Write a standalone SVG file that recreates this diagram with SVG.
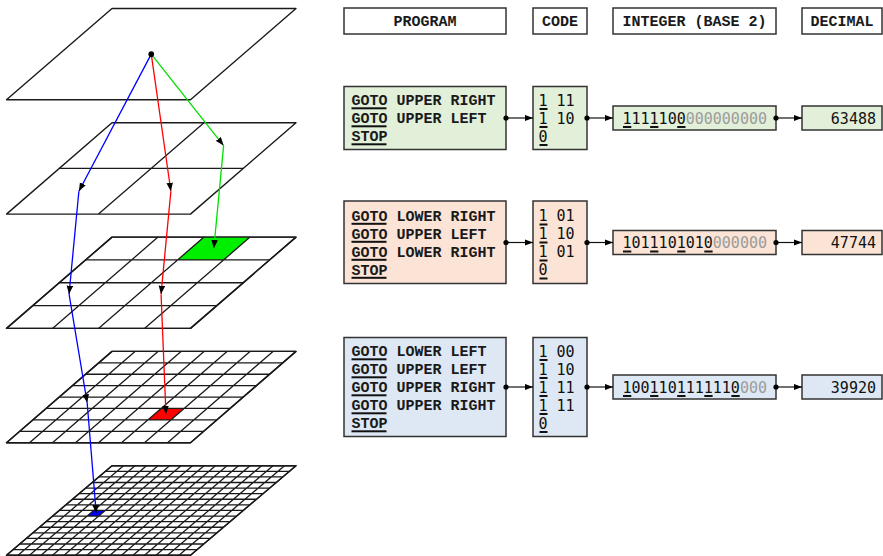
<svg xmlns="http://www.w3.org/2000/svg" width="883" height="556" viewBox="0 0 883 556">
<style>
.plane{fill:#fff;stroke:#1a1a1a;stroke-width:1.4;stroke-linejoin:round}
.grid{fill:none;stroke:#1a1a1a;stroke-width:1.3}
.path{fill:none;stroke-width:1.3}
.conn{fill:none;stroke:#111;stroke-width:1.2}
.box{stroke:#333;stroke-width:1.5}
.hdr{fill:#fff}
.g{fill:#e2efd9}
.o{fill:#fbe4d5}
.b{fill:#dde8f4}
.prog{font-family:"Liberation Mono","Courier New",monospace;font-weight:bold;font-size:15px;fill:#1a1a1a}
.mono{font-family:"DejaVu Sans Mono","Liberation Mono",monospace;font-size:15px;fill:#111}
.gray{fill:#9c9c9c}
.ul{fill:#111}
</style>
<defs>
<marker id="ah" markerUnits="userSpaceOnUse" markerWidth="9" markerHeight="7" refX="8.5" refY="3.25" orient="auto">
<path d="M0,0 L8.5,3.25 L0,6.5 z" fill="#000"/>
</marker>
</defs>

<!-- planes -->
<g id="plane1">
<polygon class="plane" points="112,8.5 296,8.5 190.5,99.8 6.5,99.8"/>
</g>
<g id="plane2">
<polygon class="plane" points="112,122.8 296,122.8 190.5,214.1 6.5,214.1"/>
<path class="grid" d="M59.25,168.45 H243.25 M204,122.8 L98.5,214.1"/>
</g>
<g id="plane3">
<polygon class="plane" points="112,237.1 296,237.1 190.5,328.4 6.5,328.4"/>
<polygon points="204,237.1 250,237.1 223.625,259.925 177.625,259.925" fill="#00ee00"/>
<path class="grid" d="M85.625,259.925 H269.625 M59.25,282.75 H243.25 M32.875,305.575 H216.875 M158,237.1 L52.5,328.4 M204,237.1 L98.5,328.4 M250,237.1 L144.5,328.4"/>
<polygon class="plane" style="fill:none" points="112,237.1 296,237.1 190.5,328.4 6.5,328.4"/>
</g>
<g id="plane4">
<polygon class="plane" points="112,351.4 296,351.4 190.5,442.7 6.5,442.7"/>
<polygon points="161.06,408.46 184.06,408.46 170.875,419.88 147.875,419.88" fill="#ff0000"/>
<path class="grid" d="M98.81,362.81 H282.81 M85.63,374.23 H269.63 M72.44,385.64 H256.44 M59.25,397.05 H243.25 M46.06,408.46 H230.06 M32.88,419.88 H216.88 M19.69,431.29 H203.69 M135,351.4 L29.5,442.7 M158,351.4 L52.5,442.7 M181,351.4 L75.5,442.7 M204,351.4 L98.5,442.7 M227,351.4 L121.5,442.7 M250,351.4 L144.5,442.7 M273,351.4 L167.5,442.7"/>
<polygon class="plane" style="fill:none" points="112,351.4 296,351.4 190.5,442.7 6.5,442.7"/>
</g>
<g id="plane5">
<polygon class="plane" points="112,465.7 296,465.7 190.5,555.2 6.5,555.2"/>
<polygon points="93.75,510.45 105.25,510.45 98.66,516.04 87.16,516.04" fill="#0000ff"/>
<path class="grid" d="M105.41,471.29 H289.41 M98.81,476.89 H282.81 M92.22,482.48 H276.22 M85.63,488.08 H269.63 M79.03,493.67 H263.03 M72.44,499.26 H256.44 M65.84,504.86 H249.84 M59.25,510.45 H243.25 M52.66,516.04 H236.66 M46.06,521.64 H230.06 M39.47,527.23 H223.47 M32.88,532.83 H216.88 M26.28,538.42 H210.28 M19.69,544.01 H203.69 M13.09,549.61 H197.09 M123.5,465.7 L18,555.2 M135,465.7 L29.5,555.2 M146.5,465.7 L41,555.2 M158,465.7 L52.5,555.2 M169.5,465.7 L64,555.2 M181,465.7 L75.5,555.2 M192.5,465.7 L87,555.2 M204,465.7 L98.5,555.2 M215.5,465.7 L110,555.2 M227,465.7 L121.5,555.2 M238.5,465.7 L133,555.2 M250,465.7 L144.5,555.2 M261.5,465.7 L156,555.2 M273,465.7 L167.5,555.2 M284.5,465.7 L179,555.2"/>
<polygon class="plane" style="fill:none" points="112,465.7 296,465.7 190.5,555.2 6.5,555.2"/>
</g>

<!-- paths through the planes -->
<g id="paths">
<path class="path" stroke="#00e000" d="M151.25,54.15 L223.6,145.6" marker-end="url(#ah)"/>
<path class="path" stroke="#00e000" d="M223.6,145.6 L213.81,248.51" marker-end="url(#ah)"/>
<path class="path" stroke="#ff0000" d="M151.25,54.15 L170.875,191.275" marker-end="url(#ah)"/>
<path class="path" stroke="#ff0000" d="M170.875,191.275 L161.06,294.16" marker-end="url(#ah)"/>
<path class="path" stroke="#ff0000" d="M161.06,294.16 L165.97,414.17" marker-end="url(#ah)"/>
<path class="path" stroke="#0000ff" d="M151.25,54.15 L78.875,191.275" marker-end="url(#ah)"/>
<path class="path" stroke="#0000ff" d="M78.875,191.275 L69.06,294.16" marker-end="url(#ah)"/>
<path class="path" stroke="#0000ff" d="M69.06,294.16 L87.16,402.76" marker-end="url(#ah)"/>
<path class="path" stroke="#0000ff" d="M87.16,402.76 L96.2,513.25" marker-end="url(#ah)"/>
<circle cx="151.25" cy="54.15" r="2.8" fill="#000"/>
</g>

<!-- headers -->
<g id="hdr-program"><rect class="box hdr" x="344" y="8" width="162" height="26"/><text class="prog" x="425" y="26" text-anchor="middle">PROGRAM</text></g>
<g id="hdr-code"><rect class="box hdr" x="533" y="8" width="54" height="26"/><text class="prog" x="560" y="26" text-anchor="middle">CODE</text></g>
<g id="hdr-integer"><rect class="box hdr" x="613" y="8" width="163" height="26"/><text class="prog" x="694.5" y="26" text-anchor="middle">INTEGER (BASE 2)</text></g>
<g id="hdr-decimal"><rect class="box hdr" x="802" y="8" width="80" height="26"/><text class="prog" x="842" y="26" text-anchor="middle">DECIMAL</text></g>

<!-- row 1 -->
<g id="prog1">
<rect class="box g" x="344" y="86.5" width="162" height="63"/>
<text class="prog" x="351.5" y="105">GOTO UPPER RIGHT</text>
<text class="prog" x="351.5" y="123">GOTO UPPER LEFT</text>
<text class="prog" x="351.5" y="141">STOP</text>
<rect class="ul" x="351.5" y="107.3" width="35" height="2"/>
<rect class="ul" x="351.5" y="125.3" width="35" height="2"/>
<rect class="ul" x="351.5" y="143.3" width="35" height="2"/>
</g>
<g id="code1">
<rect class="box g" x="533" y="86.5" width="54" height="63"/>
<text class="mono" x="538.5" y="105.5">1 11</text>
<text class="mono" x="538.5" y="123.5">1 10</text>
<text class="mono" x="538.5" y="141.5">0</text>
<rect class="ul" x="539.5" y="108" width="8" height="2"/>
<rect class="ul" x="539.5" y="126" width="8" height="2"/>
<rect class="ul" x="539.5" y="144" width="8" height="2"/>
</g>
<g id="int1">
<rect class="box g" x="613" y="106" width="163" height="24"/>
<text class="mono" x="622.5" y="123.5">1111100<tspan class="gray">000000000</tspan></text>
<rect class="ul" x="623" y="126" width="8.3" height="2"/>
<rect class="ul" x="650.1" y="126" width="8.3" height="2"/>
<rect class="ul" x="677.2" y="126" width="8.3" height="2"/>
</g>
<g id="dec1">
<rect class="box g" x="802" y="106" width="80" height="24"/>
<text class="mono" x="876" y="123.5" text-anchor="end">63488</text>
</g>

<!-- row 2 -->
<g id="prog2">
<rect class="box o" x="344" y="201" width="162" height="82.5"/>
<text class="prog" x="351.5" y="220.5">GOTO LOWER RIGHT</text>
<text class="prog" x="351.5" y="238.5">GOTO UPPER LEFT</text>
<text class="prog" x="351.5" y="256.5">GOTO LOWER RIGHT</text>
<text class="prog" x="351.5" y="274.5">STOP</text>
<rect class="ul" x="351.5" y="222.8" width="35" height="2"/>
<rect class="ul" x="351.5" y="240.8" width="35" height="2"/>
<rect class="ul" x="351.5" y="258.8" width="35" height="2"/>
<rect class="ul" x="351.5" y="276.8" width="35" height="2"/>
</g>
<g id="code2">
<rect class="box o" x="533" y="201" width="54" height="82.5"/>
<text class="mono" x="538.5" y="221">1 01</text>
<text class="mono" x="538.5" y="239">1 10</text>
<text class="mono" x="538.5" y="257">1 01</text>
<text class="mono" x="538.5" y="275">0</text>
<rect class="ul" x="539.5" y="223.5" width="8" height="2"/>
<rect class="ul" x="539.5" y="241.5" width="8" height="2"/>
<rect class="ul" x="539.5" y="259.5" width="8" height="2"/>
<rect class="ul" x="539.5" y="277.5" width="8" height="2"/>
</g>
<g id="int2">
<rect class="box o" x="613" y="230.5" width="163" height="24"/>
<text class="mono" x="622.5" y="248">1011101010<tspan class="gray">000000</tspan></text>
<rect class="ul" x="623" y="250.5" width="8.3" height="2"/>
<rect class="ul" x="650.1" y="250.5" width="8.3" height="2"/>
<rect class="ul" x="677.2" y="250.5" width="8.3" height="2"/>
<rect class="ul" x="704.3" y="250.5" width="8.3" height="2"/>
</g>
<g id="dec2">
<rect class="box o" x="802" y="230.5" width="80" height="24"/>
<text class="mono" x="876" y="248" text-anchor="end">47744</text>
</g>

<!-- row 3 -->
<g id="prog3">
<rect class="box b" x="344" y="337.5" width="162" height="99"/>
<text class="prog" x="351.5" y="356">GOTO LOWER LEFT</text>
<text class="prog" x="351.5" y="374">GOTO UPPER LEFT</text>
<text class="prog" x="351.5" y="392">GOTO UPPER RIGHT</text>
<text class="prog" x="351.5" y="410">GOTO UPPER RIGHT</text>
<text class="prog" x="351.5" y="428">STOP</text>
<rect class="ul" x="351.5" y="358.3" width="35" height="2"/>
<rect class="ul" x="351.5" y="376.3" width="35" height="2"/>
<rect class="ul" x="351.5" y="394.3" width="35" height="2"/>
<rect class="ul" x="351.5" y="412.3" width="35" height="2"/>
<rect class="ul" x="351.5" y="430.3" width="35" height="2"/>
</g>
<g id="code3">
<rect class="box b" x="533" y="337.5" width="54" height="99"/>
<text class="mono" x="538.5" y="356.5">1 00</text>
<text class="mono" x="538.5" y="374.5">1 10</text>
<text class="mono" x="538.5" y="392.5">1 11</text>
<text class="mono" x="538.5" y="410.5">1 11</text>
<text class="mono" x="538.5" y="428.5">0</text>
<rect class="ul" x="539.5" y="359" width="8" height="2"/>
<rect class="ul" x="539.5" y="377" width="8" height="2"/>
<rect class="ul" x="539.5" y="395" width="8" height="2"/>
<rect class="ul" x="539.5" y="413" width="8" height="2"/>
<rect class="ul" x="539.5" y="431" width="8" height="2"/>
</g>
<g id="int3">
<rect class="box b" x="613" y="375" width="163" height="24"/>
<text class="mono" x="622.5" y="392.5">1001101111110<tspan class="gray">000</tspan></text>
<rect class="ul" x="623" y="395" width="8.3" height="2"/>
<rect class="ul" x="650.1" y="395" width="8.3" height="2"/>
<rect class="ul" x="677.2" y="395" width="8.3" height="2"/>
<rect class="ul" x="704.3" y="395" width="8.3" height="2"/>
<rect class="ul" x="731.4" y="395" width="8.3" height="2"/>
</g>
<g id="dec3">
<rect class="box b" x="802" y="375" width="80" height="24"/>
<text class="mono" x="876" y="392.5" text-anchor="end">39920</text>
</g>

<!-- connectors -->
<g id="connectors">
<path class="conn" d="M506,118 H533" marker-end="url(#ah)"/>
<path class="conn" d="M587,118 H613" marker-end="url(#ah)"/>
<path class="conn" d="M776,118 H802" marker-end="url(#ah)"/>
<circle cx="506" cy="118" r="2.6"/><circle cx="587" cy="118" r="2.6"/><circle cx="776" cy="118" r="2.6"/>
<path class="conn" d="M506,242.5 H533" marker-end="url(#ah)"/>
<path class="conn" d="M587,242.5 H613" marker-end="url(#ah)"/>
<path class="conn" d="M776,242.5 H802" marker-end="url(#ah)"/>
<circle cx="506" cy="242.5" r="2.6"/><circle cx="587" cy="242.5" r="2.6"/><circle cx="776" cy="242.5" r="2.6"/>
<path class="conn" d="M506,387 H533" marker-end="url(#ah)"/>
<path class="conn" d="M587,387 H613" marker-end="url(#ah)"/>
<path class="conn" d="M776,387 H802" marker-end="url(#ah)"/>
<circle cx="506" cy="387" r="2.6"/><circle cx="587" cy="387" r="2.6"/><circle cx="776" cy="387" r="2.6"/>
</g>
</svg>
